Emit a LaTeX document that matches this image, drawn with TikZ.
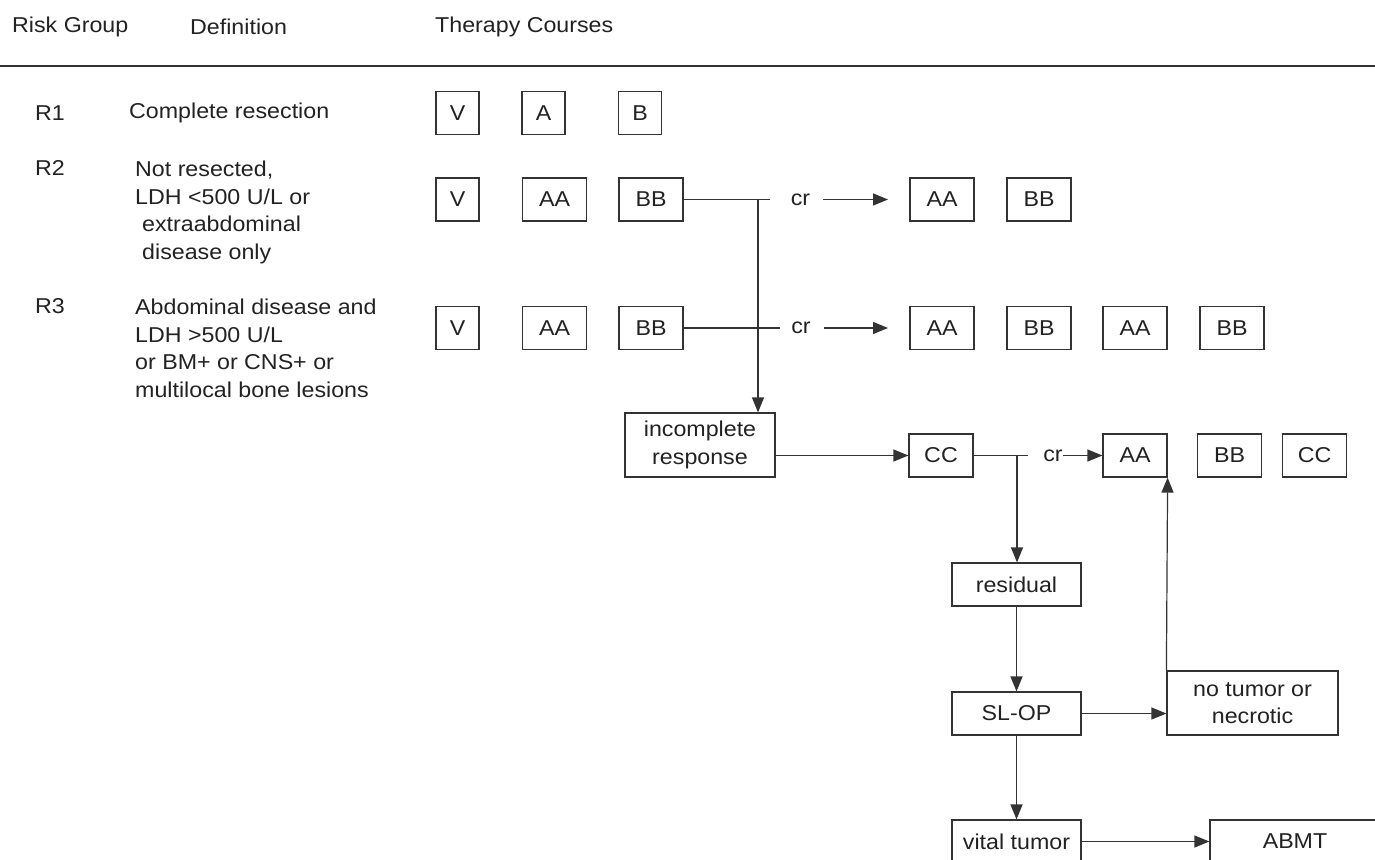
\documentclass[tikz,border=0pt]{standalone}
\usepackage{fontspec}
\setmainfont{Liberation Sans}[FakeStretch=1.08]
\usetikzlibrary{arrows.meta}
\definecolor{ink}{HTML}{222222}
\definecolor{edge}{HTML}{333333}

\begin{document}
\begin{tikzpicture}[x=1pt,y=-1pt,
    every node/.style={font=\fontsize{21.5}{27.5}\selectfont,text=ink},
    label/.style={anchor=west,inner sep=0pt},
    course/.style={draw=edge,line width=1.2pt,inner sep=0pt,minimum height=43pt},
    single/.style={course,minimum width=43pt},
    double/.style={course,minimum width=64pt},
    wide/.style={course,minimum width=129pt},
    flow/.style={draw=edge,line width=1.2pt},
    arr/.style={flow,-{Triangle[length=15pt,width=12pt]}}]
    \useasboundingbox (0,0) rectangle (1375,859);
    % header
    \node[label] (hrisk) at (12,27) {Risk Group};
    \node[label] (hdef) at (190,27) {Definition};
    \node[label] (hther) at (435,27) {Therapy Courses};
    \draw[edge,line width=1.5pt] (0,66) -- (1375,66);
    % R1
    \node[label] (r1) at (35,113) {R1};
    \node[label] (d1) at (129,113) {Complete resection};
    \node[single] (v1) at (457.5,113) {V};
    \node[single] (a1) at (543.5,113) {A};
    \node[single] (b1) at (640,113) {B};
    % R2
    \node[label] (r2) at (35,168) {R2};
    \node[anchor=north west,inner sep=0pt,align=left] (d2) at (135,161)
        {Not resected,\\LDH <500 U/L or\\\hspace{7pt}extraabdominal\\\hspace{7pt}disease only};
    \node[single] (v2) at (457.5,199.5) {V};
    \node[double] (aa2) at (554.5,199.5) {AA};
    \node[double] (bb2) at (651,199.5) {BB};
    \node[double] (aa2r) at (942,199.5) {AA};
    \node[double] (bb2r) at (1039,199.5) {BB};
    % R3
    \node[label] (r3) at (35,306) {R3};
    \node[anchor=north west,inner sep=0pt,align=left] (d3) at (135,299)
        {Abdominal disease and\\LDH >500 U/L\\or BM+ or CNS+ or\\multilocal bone lesions};
    \node[single] (v3) at (457.5,328) {V};
    \node[double] (aa3) at (554.5,328) {AA};
    \node[double] (bb3) at (651,328) {BB};
    \node[double] (aa3r) at (942,328) {AA};
    \node[double] (bb3r) at (1039,328) {BB};
    \node[double] (aa3s) at (1135,328) {AA};
    \node[double] (bb3s) at (1232,328) {BB};
    % salvage
    \node[course,minimum width=150pt,minimum height=64pt,align=center] (inc) at (700,445) {incomplete\\response};
    \node[double] (cc) at (941,455.5) {CC};
    \node[double] (aa4) at (1135,455.5) {AA};
    \node[double] (bb4) at (1229.5,455.5) {BB};
    \node[double] (cc4) at (1314.5,455.5) {CC};
    \node[wide] (res) at (1016.5,584.5) {residual};
    \node[wide] (slop) at (1016.5,713.5) {SL-OP};
    \node[course,minimum width=171pt,minimum height=64pt,align=center] (free) at (1252.5,703) {no tumor or\\necrotic};
    \node[wide] (vital) at (1016.5,841.5) {vital tumor};
    \node[course,minimum width=170pt] (abmt) at (1295,841.5) {ABMT};
    % cr labels
    \node[inner sep=0pt] (cr2) at (800.5,199.5) {cr};
    \node[inner sep=0pt] (cr3) at (801,328) {cr};
    \node[inner sep=0pt] (cr4) at (1053,455.5) {cr};
    \coordinate (end2) at (770,199.5);
    \coordinate (end3) at (780,328);
    \coordinate (end4) at (1028,455.5);
    \coordinate (split2) at (758,199.5);
    \coordinate (split4) at (1017,455.5);
    \coordinate (tip2) at (888,199.5);
    \coordinate (tip3) at (888,328);
    % connectors
    \draw[flow] (bb2.east) -- (end2);
    \draw[flow] (bb3.east) -- (end3);
    \draw[flow] (cc.east) -- (end4);
    \draw[arr,shorten <=13pt] (cr2.east) -- (tip2);
    \draw[arr,shorten <=13pt] (cr3.east) -- (tip3);
    \draw[arr] (cr4.east) -- (aa4.west);
    \draw[arr] (split2) -- (split2 |- inc.north);
    \draw[arr] (inc.east |- cc.west) -- (cc.west);
    \draw[arr] (split4) -- (split4 |- res.north);
    \draw[arr] (res.south) -- (slop.north);
    \draw[arr] (slop.east) -- (slop.east -| free.west);
    \draw[arr] (free.north west) -- (aa4.south east);
    \draw[arr] (slop.south) -- (vital.north);
    \draw[arr] (vital.east) -- (abmt.west);
\end{tikzpicture}
\end{document}
